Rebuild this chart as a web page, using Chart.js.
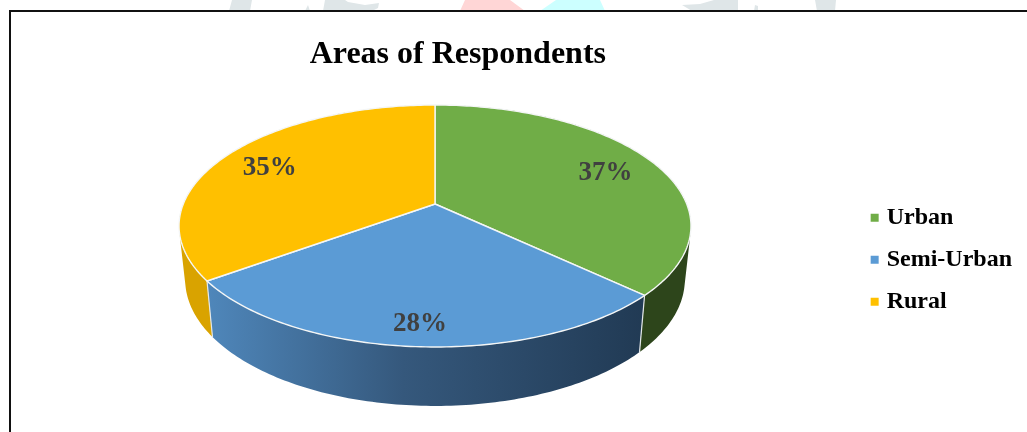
<!DOCTYPE html>
<html>
<head>
<meta charset="utf-8">
<title>Areas of Respondents</title>
<script src="https://cdn.jsdelivr.net/npm/chart.js@4/dist/chart.umd.min.js"></script>
<style>
  html, body { margin: 0; padding: 0; background: #fff; }
  #wrap { position: relative; width: 1027px; height: 432px; overflow: hidden; }
  canvas { position: absolute; left: 0; top: 0; }
</style>
</head>
<body>
<div id="wrap"><canvas id="pie" width="1027" height="432"></canvas></div>
<script>
'use strict';

const categories = ['Urban', 'Semi-Urban', 'Rural'];
const shares = [37, 28, 35];

const faceColors = ['#70ad47', '#5b9bd5', '#ffc000'];
const wallColors = ['#2d451b', null, '#d9a300'];
const labelRadius = [0.775, 0.85, 0.79];

// tilted disc: unit circle (u, v) to screen, v grows toward the viewer
const CX = 435, APEX_Y = 204, SCALE_X = 251.7, SCALE_Y = 79.9, PERSP = -0.1818;

function topPoint(angle, r) {
  // chart.js angles start at -PI/2 (12 o'clock) and run clockwise
  const u = Math.cos(angle) * r;
  const v = Math.sin(angle) * r;
  const d = 1 + PERSP * v;
  return { x: CX + SCALE_X * u / d, y: (SCALE_Y * v + APEX_Y) / d };
}

function lowPoint(angle) {
  const p = topPoint(angle, 1);
  return { x: CX + (p.x - CX) * 0.976, y: p.y + 56 + (p.y - 281) * 0.045 };
}

function arcPoints(fn, a, b) {
  const pts = [];
  const n = Math.max(2, Math.ceil((b - a) * 60));
  for (let i = 0; i <= n; i++) pts.push(fn(a + (b - a) * i / n));
  return pts;
}

// one quad per rim step, all wound the same way so the fill is a plain union
function addWallQuads(ctx, top, low) {
  for (let i = 0; i < top.length - 1; i++) {
    const quad = [top[i], top[i + 1], low[i + 1], low[i]];
    let area = 0;
    quad.forEach((p, k) => {
      const q = quad[(k + 1) % 4];
      area += p.x * q.y - q.x * p.y;
    });
    if (area < 0) quad.reverse();
    ctx.moveTo(quad[0].x, quad[0].y);
    for (let k = 1; k < 4; k++) ctx.lineTo(quad[k].x, quad[k].y);
    ctx.closePath();
  }
}

// pale shapes that show above the frame, and the frame itself
const backdropShapes = [
  ['#dfe6e8', [[232, 0], [252, 0], [250, 11], [229, 11]]],
  ['#dfe6e8', [[305, 11], [308, 5], [310, 11]]],
  ['#dfe6e8', [[325, 0], [345, 0], [348, 2], [365, 5], [379, 3], [378, 8], [372, 11], [323, 11]]],
  ['#ffd6d6', [[465, 0], [510, 0], [525, 11], [460, 11]]],
  ['#ccffff', [[556, 0], [600, 0], [605, 11], [540, 11]]],
  ['#dfe6e8', [[682, 5], [700, 4], [714, 0], [738, 0], [738, 11], [692, 11]]],
  ['#dfe6e8', [[754, 11], [755, 5], [758, 6], [758, 11]]],
  ['#dfe6e8', [[815, 0], [836, 0], [835, 11], [817, 11]]]
];

const framePlugin = {
  id: 'frame',
  beforeDraw(chart) {
    const ctx = chart.ctx;
    ctx.save();
    backdropShapes.forEach(([color, pts]) => {
      ctx.fillStyle = color;
      ctx.beginPath();
      pts.forEach((p, i) => i ? ctx.lineTo(p[0], p[1]) : ctx.moveTo(p[0], p[1]));
      ctx.closePath();
      ctx.fill();
    });
    ctx.fillStyle = '#111';
    ctx.fillRect(9, 10, 1018, 2);
    ctx.fillRect(9, 10, 2, 422);
    ctx.restore();
  }
};

// the arcs come from the pie controller, only their projection is done here
const tiltedPie = {
  id: 'tiltedPie',
  beforeDatasetDraw(chart) {
    const ctx = chart.ctx;
    const arcs = chart.getDatasetMeta(0).data;
    ctx.save();
    ctx.lineJoin = 'round';

    const blueWall = ctx.createLinearGradient(206, 0, 645, 0);
    blueWall.addColorStop(0, '#4f87bb');
    blueWall.addColorStop(0.45, '#35587c');
    blueWall.addColorStop(1, '#213a54');

    arcs.forEach((arc, i) => {
      const top = arcPoints(a => topPoint(a, 1), arc.startAngle, arc.endAngle);
      const low = arcPoints(lowPoint, arc.startAngle, arc.endAngle);
      ctx.beginPath();
      addWallQuads(ctx, top, low);
      ctx.fillStyle = wallColors[i] || blueWall;
      ctx.fill();
    });

    // seams on the front of the wall
    ctx.strokeStyle = '#e4e8ea';
    ctx.lineWidth = 1.2;
    [arcs[0].endAngle, arcs[1].endAngle].forEach(a => {
      const p = topPoint(a, 1), q = lowPoint(a);
      ctx.beginPath();
      ctx.moveTo(p.x, p.y);
      ctx.lineTo(q.x, q.y);
      ctx.stroke();
    });

    arcs.forEach((arc, i) => {
      const apex = topPoint(0, 0);
      ctx.beginPath();
      ctx.moveTo(apex.x, apex.y);
      arcPoints(a => topPoint(a, 1), arc.startAngle, arc.endAngle).forEach(p => ctx.lineTo(p.x, p.y));
      ctx.closePath();
      ctx.fillStyle = faceColors[i];
      ctx.fill();
      ctx.strokeStyle = '#f4f6f6';
      ctx.lineWidth = 1.4;
      ctx.stroke();
    });

    ctx.fillStyle = '#404040';
    ctx.font = 'bold 27px "Liberation Serif"';
    ctx.textAlign = 'center';
    ctx.textBaseline = 'middle';
    arcs.forEach((arc, i) => {
      const p = topPoint((arc.startAngle + arc.endAngle) / 2, labelRadius[i]);
      ctx.fillText(shares[i] + '%', p.x + 1, p.y + 3);
    });
    ctx.restore();
    return false;
  }
};

new Chart(document.getElementById('pie'), {
  type: 'pie',
  data: {
    labels: categories,
    datasets: [{
      data: shares,
      backgroundColor: faceColors,
      borderWidth: 0
    }]
  },
  options: {
    responsive: false,
    animation: false,
    layout: { padding: { left: 59, right: 5, top: 36, bottom: 0 } },
    plugins: {
      title: {
        display: true,
        fullSize: false,
        text: 'Areas of Respondents',
        color: '#000',
        font: { family: '"Liberation Serif"', size: 32, weight: 'bold' },
        padding: { top: 0, bottom: 13 }
      },
      legend: {
        position: 'right',
        fullSize: false,
        labels: {
          usePointStyle: true,
          pointStyle: 'rect',
          boxWidth: 0.01,
          boxHeight: 8,
          padding: 18,
          color: '#000',
          font: { family: '"Liberation Serif"', size: 24, weight: 'bold' }
        }
      },
      tooltip: { enabled: false }
    }
  },
  plugins: [framePlugin, tiltedPie]
});
</script>
</body>
</html>
